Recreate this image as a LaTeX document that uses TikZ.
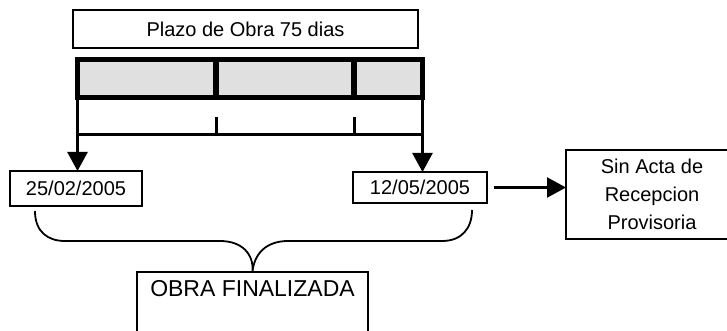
\documentclass[tikz,border=0pt]{standalone}
\usepackage{fontspec}
\setmainfont{Liberation Sans}
\usetikzlibrary{arrows.meta}
\usetikzlibrary{positioning}

\begin{document}
\begin{tikzpicture}[x=1pt,y=-1pt,
	box/.style={draw,line width=1.8pt,inner sep=0pt,outer sep=0pt},
	tip/.style={-{Triangle[width=20pt,length=19pt]}},
	font=\fontsize{20}{28}\selectfont]

	\useasboundingbox (0,0) rectangle (727,331);

	\def \lw {3pt}

	% title box
	\node[box,minimum width=345,minimum height=38] (plazo) at (245.5,29) {Plazo de Obra 75 dias};

	% the bar with its three parts
	\node[draw,line width=5.5pt,fill=gray!24,inner sep=0pt,outer sep=0pt,
		minimum width=345,minimum height=38] (bar) at (250,78.5) {};
	\foreach \x in {216,354} {
		\draw[line width=5.5pt] (\x,59.5) -- (\x,97.5);
		% ticks of the scale below
		\draw[line width=\lw] (\x,117) -- (\x,135);
	}
	\draw[line width=\lw] (77.5,135) -- (422.5,135);

	% dates
	\node[box,minimum width=132,minimum height=35] (inicio) at (76,188.5) {25/02/2005};
	\node[box,minimum width=134,minimum height=31] (fin) at (420,187.5) {12/05/2005};

	\draw[tip,line width=2.5pt] (bar.south west) -- (bar.south west |- inicio.north);
	\draw[tip,line width=2.5pt] (bar.south east) -- (bar.south east |- fin.north);

	% acta
	\node[box,minimum width=172,minimum height=89,align=center] (acta) at (652,194.5)
		{Sin Acta de\\Recepcion\\Provisoria};
	\draw[tip,line width=2.2pt] ([xshift=7pt]fin.east) -- (fin.east -| acta.west);

	% obra finalizada
	\node[box,anchor=north,minimum width=231,text height=24pt,text depth=70pt,
		font=\fontsize{23}{28}\selectfont] (obra) at (252.5,272) {OBRA FINALIZADA};

	% brace
	\draw[line width=1.8pt] (35,211) .. controls (35,232) and (48,241) .. (65,241)
		-- (220,241) .. controls (242,241) and (254,254) .. (obra.north)
		.. controls (254,254) and (266,241) .. (288,241)
		-- (442,241) .. controls (462,241) and (472,228) .. (472,210);

\end{tikzpicture}
\end{document}
